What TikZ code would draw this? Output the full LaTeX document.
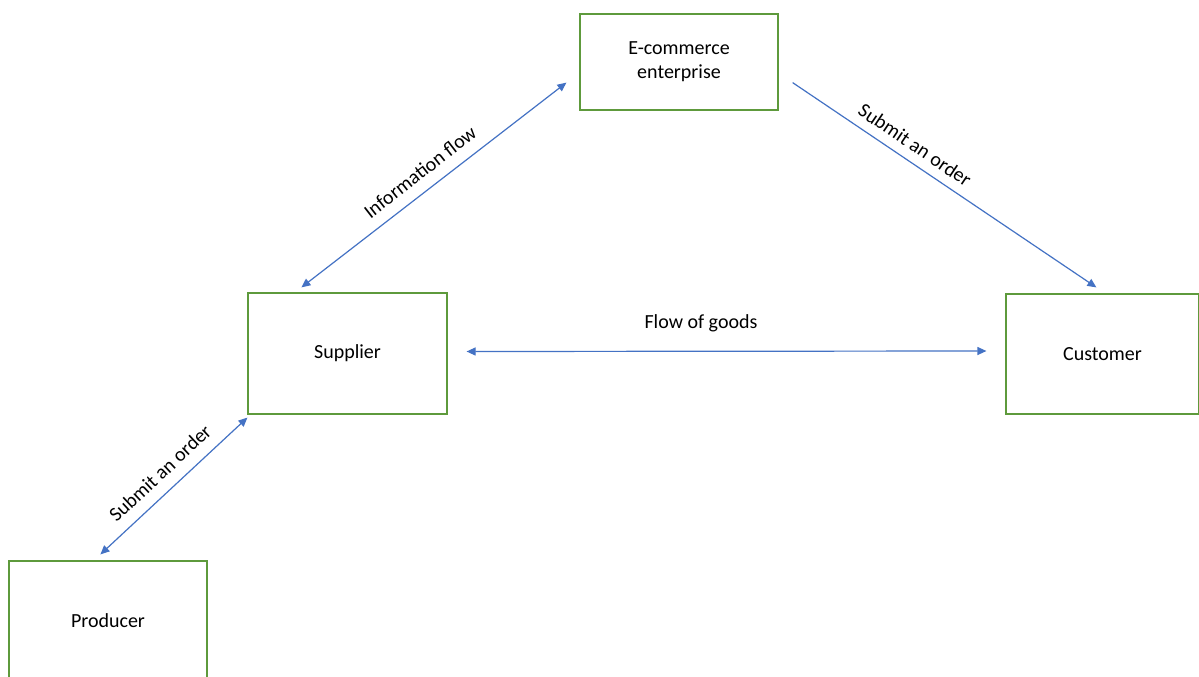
\documentclass[tikz,border=0pt]{standalone}
\usepackage{fontspec}
\setmainfont{Carlito}
\usetikzlibrary{arrows.meta}
\definecolor{boxgreen}{HTML}{5E9A3C}
\definecolor{flowblue}{HTML}{4472C4}
\begin{document}
\begin{tikzpicture}[x=1pt,y=-1pt,
  entity/.style={draw=boxgreen,line width=1.2pt,fill=white,inner sep=0pt,
    font=\fontsize{20}{24}\selectfont,align=center},
  flow/.style={draw=flowblue,line width=1.2pt,
    {Triangle[length=9pt,width=8pt]}-{Triangle[length=9pt,width=8pt]}},
  oneway/.style={draw=flowblue,line width=1.2pt,-{Triangle[length=9pt,width=8pt]}},
  lbl/.style={font=\fontsize{20}{24}\selectfont,inner sep=0pt}]
\useasboundingbox[fill=white] (0,0) rectangle (1199,677);

% boxes
\node[entity,minimum width=198pt,minimum height=96pt] (ecom) at (679,62) {E-commerce\\enterprise};
\node[entity,minimum width=199pt,minimum height=121pt] (sup) at (347.5,353.5) {Supplier};
\node[entity,minimum width=193pt,minimum height=120pt] (cust) at (1102.5,354) {Customer};
\node[entity,minimum width=198pt,minimum height=140pt,text depth=0pt] (prod) at (108,631) {};
\node[lbl] (prodtext) at (108,621) {Producer};

% connectors
\draw[flow] ([xshift=54pt,yshift=5pt]sup.north west) -- ([xshift=-13pt,yshift=28pt]ecom.south west);
\draw[oneway] ([xshift=14pt,yshift=28pt]ecom.south east) -- ([xshift=91pt,yshift=6pt]cust.north west);
\draw[flow] ([xshift=19pt,yshift=2pt]sup.east) -- ([xshift=-19pt,yshift=3pt]cust.west);
\draw[flow] ([yshift=-3pt]sup.south west) -- ([xshift=92pt,yshift=6pt]prod.north west);

% labels
\node[lbl,rotate=37.9] (linfo) at (420,172) {Information flow};
\node[lbl,rotate=-34] (lorder) at (915,145) {Submit an order};
\node[lbl] (lgoods) at (701,323) {Flow of goods};
\node[lbl,rotate=43] (lorder2) at (160,473) {Submit an order};
\end{tikzpicture}
\end{document}
